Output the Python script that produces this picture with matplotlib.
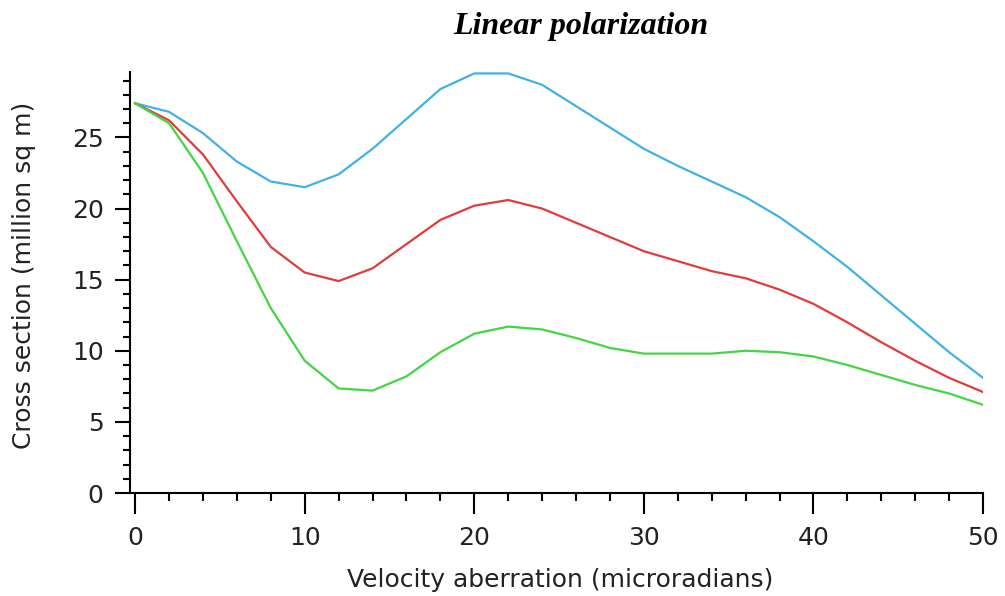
import numpy as np
import matplotlib
matplotlib.use("Agg")
import matplotlib.pyplot as plt
from matplotlib.ticker import MultipleLocator

# Velocity aberration (microradians)
x_vals = [0, 2, 4, 6, 8, 10, 12, 14, 16, 18, 20, 22, 24, 26,
          28, 30, 32, 34, 36, 38, 40, 42, 44, 46, 48, 50]

# Cross section (million sq m), three curves
blue_vals = [27.4, 26.8, 25.3, 23.3, 21.9, 21.5, 22.4, 24.2, 26.3, 28.4, 29.5, 29.5, 28.7,
             27.2, 25.7, 24.2, 23.0, 21.9, 20.8, 19.4, 17.7, 15.9, 13.9, 11.9, 9.9, 8.1]
red_vals = [27.4, 26.2, 23.8, 20.5, 17.3, 15.5, 14.9, 15.8, 17.5, 19.2, 20.2, 20.6, 20.0,
            19.0, 18.0, 17.0, 16.3, 15.6, 15.1, 14.3, 13.3, 12.0, 10.6, 9.3, 8.1, 7.1]
green_vals = [27.4, 26.0, 22.5, 17.7, 13.0, 9.3, 7.35, 7.2, 8.2, 9.9, 11.2, 11.7, 11.5,
              10.9, 10.2, 9.8, 9.8, 9.8, 10.0, 9.9, 9.6, 9.0, 8.3, 7.6, 7.0, 6.2]

colors = {'blue': '#3fb2e6', 'red': '#e03c3c', 'green': '#44d444'}

FONT = ['DejaVu Sans Condensed', 'Liberation Sans Narrow', 'DejaVu Sans']

fig = plt.figure(figsize=(10.05, 5.96), dpi=100)
ax = fig.add_axes([0.1294, 0.1728, 0.8487, 0.7064])

ax.plot(x_vals, blue_vals, color=colors['blue'], linewidth=1.6)
ax.plot(x_vals, red_vals, color=colors['red'], linewidth=1.6)
ax.plot(x_vals, green_vals, color=colors['green'], linewidth=1.6)

ax.set_xlim(-0.3, 50)
ax.set_ylim(0, 29.6)

for side in ['top', 'right']:
    ax.spines[side].set_visible(False)
for side in ['left', 'bottom']:
    ax.spines[side].set_linewidth(1.5)

ax.xaxis.set_major_locator(MultipleLocator(10))
ax.xaxis.set_minor_locator(MultipleLocator(2))
ax.yaxis.set_major_locator(MultipleLocator(5))
ax.yaxis.set_minor_locator(MultipleLocator(1))

ax.tick_params(axis='x', which='major', length=15, width=1.5, direction='out', pad=9)
ax.tick_params(axis='x', which='minor', length=6, width=1.5, direction='out')
ax.tick_params(axis='y', which='major', length=11, width=1.5, direction='out', pad=8)
ax.tick_params(axis='y', which='minor', length=5, width=1.5, direction='out')

for lbl in ax.get_xticklabels() + ax.get_yticklabels():
    lbl.set_family(FONT)
    lbl.set_fontsize(18)
    lbl.set_color('#222222')

fig.text(0.557, 0.027, 'Velocity aberration (microradians)', ha='center', va='center',
         family=FONT, fontsize=18, color='#222222')
fig.text(0.024, 0.538, 'Cross section (million sq m)', ha='center', va='center',
         rotation=90, family=FONT, fontsize=18, color='#222222')
fig.text(0.578, 0.955, 'Linear polarization', ha='center', va='center',
         family='Liberation Serif', fontstyle='italic', fontweight='bold', fontsize=23)

fig.savefig('out.png', dpi=100)
